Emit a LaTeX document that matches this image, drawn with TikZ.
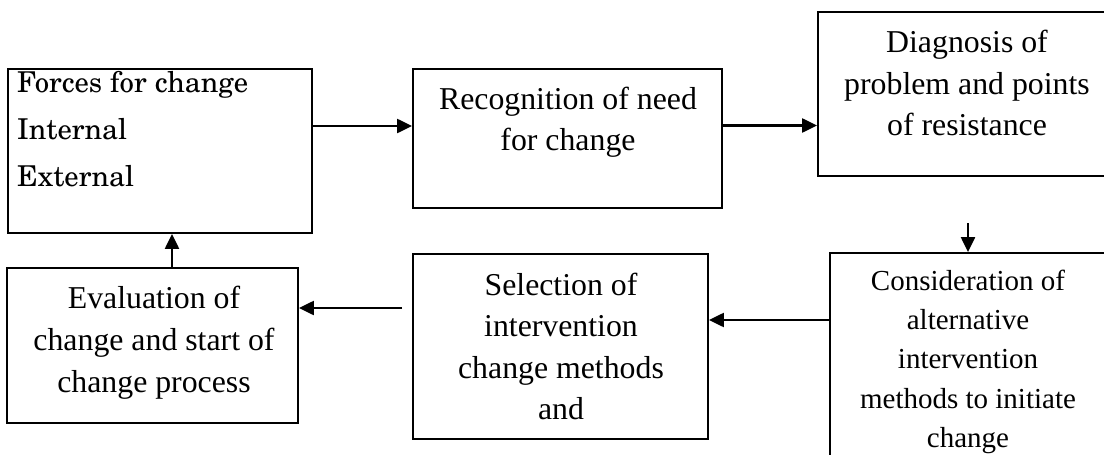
\documentclass[tikz,border=0pt]{standalone}
\usepackage[T1]{fontenc}
\usepackage{fontspec}
\setmainfont{Liberation Serif}
\usetikzlibrary{arrows.meta}
\newcommand\schfont{\fontencoding{T1}\fontfamily{pnc}\selectfont}
\tikzset{
  boxshape/.style={draw, line width=1.8pt, inner sep=0pt},
  txt/.style={inner sep=0pt, align=center, font=\fontsize{31.8}{41.5}\selectfont},
  arr/.style={line width=2.2pt, -{Triangle[length=15pt,width=14pt]}},
}
\begin{document}
\begin{tikzpicture}[x=1pt, y=-1pt]
\useasboundingbox (0,0) rectangle (1104,455);
\clip (0,0) rectangle (1104,455);
% boxes
\node[boxshape, minimum width=304pt, minimum height=164pt] (b1) at (160,151) {};
\node[boxshape, minimum width=309pt, minimum height=139pt] (b2) at (567.5,138.5) {};
\node[boxshape, minimum width=292pt, minimum height=164pt] (b3) at (964,94) {};
\node[boxshape, minimum width=276pt, minimum height=260pt] (b4) at (968,383) {};
\node[boxshape, minimum width=295pt, minimum height=185pt] (b5) at (560.5,346.5) {};
\node[boxshape, minimum width=291pt, minimum height=155pt] (b6) at (152.5,345.5) {};
% texts
\node[inner sep=0pt, anchor=west, align=left, font=\schfont\fontsize{28.7}{47}\selectfont] (t1) at (17,129.6) {Forces for change\\Internal\\External};
\node[txt] (t2) at (568,122.1) {Recognition of need\\for change};
\node[txt] (t3) at (967,83.2) {Diagnosis of\\problem and points\\of resistance};
\node[txt, font=\fontsize{29}{39.25}\selectfont] (t4) at (968,361.7) {Consideration of\\alternative\\intervention\\methods to initiate\\change};
\node[txt] (t5) at (561,346.7) {Selection of\\intervention\\change methods\\and};
\node[txt, font=\fontsize{31.8}{42}\selectfont] (t6) at (154,342.6) {Evaluation of\\change and start of\\change process};
% connector helpers
\coordinate (r1) at (0,126);
\coordinate (r2) at (0,125.5);
\coordinate (c3) at (968,223);
\coordinate (r4) at (0,320);
\coordinate (c5) at (402,308);
\coordinate (v6) at (172,0);
% connectors
\draw[arr] (b1.east |- r1) -- (b2.west |- r1);
\draw[arr] (b2.east |- r2) -- (b3.west |- r2);
\draw[arr] (c3) -- (b4.north);
\draw[arr] (b4.west |- r4) -- (b5.east |- r4);
\draw[arr] (c5) -- (b6.east |- c5);
\draw[arr] (b6.north -| v6) -- (b1.south -| v6);
\end{tikzpicture}
\end{document}
